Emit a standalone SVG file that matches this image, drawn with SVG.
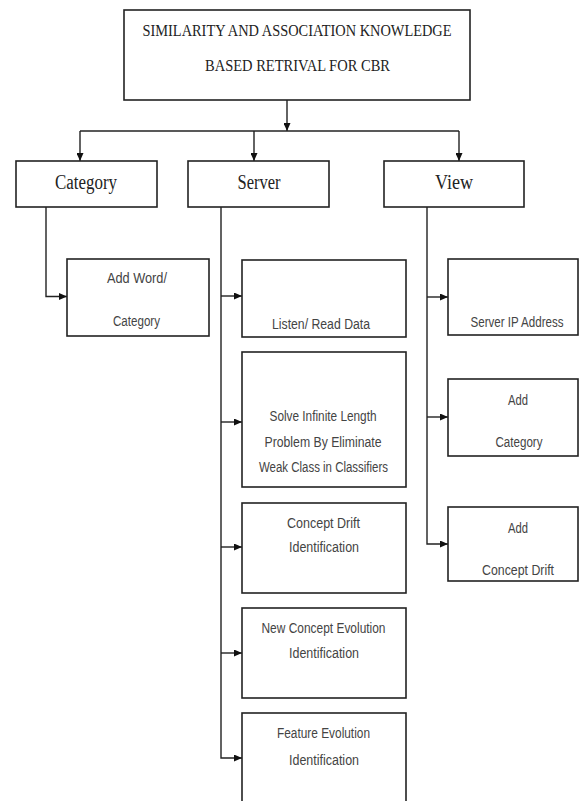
<svg xmlns="http://www.w3.org/2000/svg" width="579" height="801" viewBox="0 0 579 801">
<defs>
<marker id="ah" markerUnits="userSpaceOnUse" markerWidth="8" markerHeight="7" refX="8" refY="3.5" orient="auto">
<path d="M0,0 L8,3.5 L0,7 z" fill="#111"/>
</marker>
<style>
.box{fill:#fff;stroke:#222;stroke-width:1.6}
.ln{fill:none;stroke:#222;stroke-width:1.4}
.ar{fill:none;stroke:#222;stroke-width:1.4;marker-end:url(#ah)}
.serif{font-family:"Liberation Serif","Times New Roman",serif;fill:#222;text-anchor:middle}
.sans{font-family:"Liberation Sans",Arial,sans-serif;fill:#444;text-anchor:middle;font-size:14px}
</style>
</defs>
<rect width="579" height="801" fill="#fff"/>
<g id="connectors">
<path class="ar" d="M287,100 V131"/>
<path class="ln" d="M80,131 H459"/>
<path class="ar" d="M80,131 V161"/>
<path class="ar" d="M254,131 V161"/>
<path class="ar" d="M459,131 V161"/>
<path class="ar" d="M46,207 V296.5 H67"/>
<path class="ar" d="M221,207 V758 H242"/>
<path class="ar" d="M221,296 H242"/>
<path class="ar" d="M221,422 H242"/>
<path class="ar" d="M221,547 H242"/>
<path class="ar" d="M221,653 H242"/>
<path class="ar" d="M427,207 V544 H448"/>
<path class="ar" d="M427,297 H448"/>
<path class="ar" d="M427,417 H448"/>
</g>
<g id="root">
<rect class="box" x="124" y="10" width="346" height="90"/>
<text class="serif" x="297" y="35.5" font-size="16" textLength="309" lengthAdjust="spacingAndGlyphs">SIMILARITY AND ASSOCIATION KNOWLEDGE</text>
<text class="serif" x="297.5" y="70.5" font-size="16" textLength="185" lengthAdjust="spacingAndGlyphs">BASED RETRIVAL FOR CBR</text>
</g>
<g id="category">
<rect class="box" x="16" y="161" width="141" height="46"/>
<text class="serif" x="86" y="188.5" font-size="20" textLength="62" lengthAdjust="spacingAndGlyphs">Category</text>
</g>
<g id="server">
<rect class="box" x="188" y="161" width="141" height="46"/>
<text class="serif" x="259" y="188.5" font-size="20" textLength="43" lengthAdjust="spacingAndGlyphs">Server</text>
</g>
<g id="view">
<rect class="box" x="384" y="161" width="140" height="46"/>
<text class="serif" x="454" y="188.5" font-size="20" textLength="38" lengthAdjust="spacingAndGlyphs">View</text>
</g>
<g id="add-word-category">
<rect class="box" x="67" y="259" width="142" height="77"/>
<text class="sans" x="137" y="283" textLength="60" lengthAdjust="spacingAndGlyphs">Add Word/</text>
<text class="sans" x="136.5" y="326" textLength="47" lengthAdjust="spacingAndGlyphs">Category</text>
</g>
<g id="listen-read-data">
<rect class="box" x="242" y="260" width="164" height="77"/>
<text class="sans" x="321" y="329" textLength="98" lengthAdjust="spacingAndGlyphs">Listen/ Read Data</text>
</g>
<g id="solve-infinite">
<rect class="box" x="242" y="352" width="164" height="135"/>
<text class="sans" x="323" y="420.5" textLength="107" lengthAdjust="spacingAndGlyphs">Solve Infinite Length</text>
<text class="sans" x="323" y="447" textLength="117" lengthAdjust="spacingAndGlyphs">Problem  By Eliminate</text>
<text class="sans" x="323.5" y="471.5" textLength="129" lengthAdjust="spacingAndGlyphs">Weak Class in Classifiers</text>
</g>
<g id="concept-drift">
<rect class="box" x="242" y="503" width="164" height="90"/>
<text class="sans" x="323.5" y="528" textLength="73" lengthAdjust="spacingAndGlyphs">Concept  Drift</text>
<text class="sans" x="324" y="551.5" textLength="70" lengthAdjust="spacingAndGlyphs">Identification</text>
</g>
<g id="new-concept">
<rect class="box" x="242" y="608" width="164" height="90"/>
<text class="sans" x="323.5" y="633" textLength="124" lengthAdjust="spacingAndGlyphs">New Concept Evolution</text>
<text class="sans" x="324" y="657.5" textLength="70" lengthAdjust="spacingAndGlyphs">Identification</text>
</g>
<g id="feature-evolution">
<rect class="box" x="242" y="713" width="164" height="92"/>
<text class="sans" x="323.5" y="738" textLength="93" lengthAdjust="spacingAndGlyphs">Feature Evolution</text>
<text class="sans" x="324" y="764.5" textLength="70" lengthAdjust="spacingAndGlyphs">Identification</text>
</g>
<g id="server-ip">
<rect class="box" x="448" y="259" width="130" height="76"/>
<text class="sans" x="517" y="326.5" font-size="12.5" textLength="93" lengthAdjust="spacingAndGlyphs">Server IP Address</text>
</g>
<g id="add-category">
<rect class="box" x="448" y="379" width="130" height="77"/>
<text class="sans" x="518" y="405" textLength="20" lengthAdjust="spacingAndGlyphs">Add</text>
<text class="sans" x="519" y="446.5" textLength="47" lengthAdjust="spacingAndGlyphs">Category</text>
</g>
<g id="add-concept-drift">
<rect class="box" x="448" y="507" width="130" height="74"/>
<text class="sans" x="518" y="533" textLength="20" lengthAdjust="spacingAndGlyphs">Add</text>
<text class="sans" x="518" y="575" textLength="72" lengthAdjust="spacingAndGlyphs">Concept  Drift</text>
</g>
</svg>
